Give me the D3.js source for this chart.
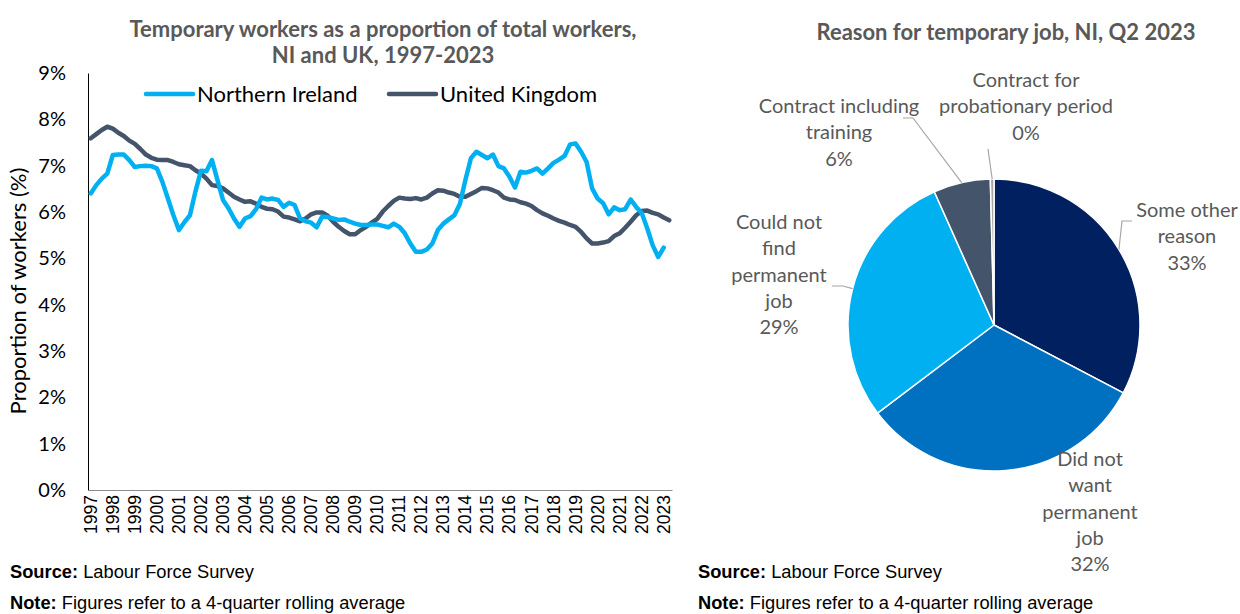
<!DOCTYPE html>
<html>
<head>
<meta charset="utf-8">
<script src="https://cdn.jsdelivr.net/npm/d3@7"></script>
<style>
  html, body { margin: 0; padding: 0; background: #fff; }
  svg { display: block; }
</style>
</head>
<body>
<svg id="chart" width="1240" height="614"></svg>
<script>
// ---- Line chart data: temporary workers as % of total workers (4-quarter rolling average)
const years = [1997, 1998, 1999, 2000, 2001, 2002, 2003, 2004, 2005, 2006, 2007, 2008, 2009,
  2010, 2011, 2012, 2013, 2014, 2015, 2016, 2017, 2018, 2019, 2020, 2021, 2022, 2023];
const quarterNames = ["Q1", "Q2", "Q3", "Q4"];

const ukValues = [
  7.59, 7.68, 7.77, 7.84, 7.80, 7.71, 7.64, 7.54, 7.47, 7.36, 7.24, 7.17, 7.13, 7.12, 7.12, 7.08,
  7.03, 7.01, 6.99, 6.90, 6.83, 6.72, 6.58, 6.56, 6.51, 6.42, 6.33, 6.27, 6.22, 6.23, 6.18, 6.11,
  6.07, 6.06, 6.01, 5.90, 5.88, 5.84, 5.80, 5.86, 5.95, 5.99, 5.99, 5.92, 5.79, 5.68, 5.59, 5.52,
  5.52, 5.61, 5.68, 5.77, 5.85, 6.01, 6.13, 6.24, 6.31, 6.29, 6.28, 6.30, 6.27, 6.31, 6.40, 6.47,
  6.46, 6.42, 6.39, 6.33, 6.33, 6.39, 6.45, 6.52, 6.51, 6.47, 6.42, 6.31, 6.27, 6.26, 6.21, 6.18,
  6.13, 6.04, 5.97, 5.92, 5.86, 5.81, 5.77, 5.72, 5.68, 5.57, 5.43, 5.32, 5.32, 5.34, 5.37, 5.48,
  5.54, 5.66, 5.79, 5.93, 6.02, 6.03, 5.98, 5.95, 5.88, 5.82
];

const niValues = [
  6.40, 6.58, 6.72, 6.83, 7.23, 7.24, 7.24, 7.12, 6.97, 6.99, 7.00, 6.99, 6.94, 6.65, 6.29, 5.93,
  5.61, 5.78, 5.93, 6.44, 6.89, 6.88, 7.12, 6.69, 6.26, 6.08, 5.86, 5.68, 5.86, 5.91, 6.06, 6.31,
  6.27, 6.29, 6.26, 6.11, 6.20, 6.15, 5.86, 5.80, 5.77, 5.67, 5.90, 5.89, 5.86, 5.83, 5.84, 5.79,
  5.75, 5.72, 5.72, 5.73, 5.73, 5.70, 5.67, 5.75, 5.68, 5.54, 5.32, 5.14, 5.14, 5.19, 5.32, 5.61,
  5.75, 5.84, 5.93, 6.17, 6.69, 7.16, 7.30, 7.23, 7.16, 7.24, 6.99, 6.94, 6.76, 6.53, 6.87, 6.85,
  6.89, 6.94, 6.83, 6.94, 7.06, 7.13, 7.21, 7.46, 7.48, 7.30, 7.08, 6.51, 6.29, 6.19, 5.95, 6.10,
  6.04, 6.06, 6.27, 6.11, 5.98, 5.65, 5.28, 5.03, 5.23
];

const seriesNames = ["Northern Ireland", "United Kingdom"];
const yTicks = [0, 1, 2, 3, 4, 5, 6, 7, 8, 9];

// ---- Pie chart data: reason for temporary job, NI, Q2 2023 (%)
const reasons = ["Some other reason", "Did not want permanent job", "Could not find permanent job",
  "Contract including training", "Contract for probationary period"];
const reasonShares = [32.7, 32.0, 28.6, 6.3, 0.4];

// ---- Styling
const colors = { ni: "#00B0F0", uk: "#44546A" };
const pieColors = ["#002060", "#0070C0", "#00B0F0", "#44546A", "#A6A6A6"];
const calibri = "Lato, 'Open Sans', sans-serif";
const arial = "'Liberation Sans', Arial, sans-serif";

const svg = d3.select("#chart");
svg.append("rect").attr("width", 1240).attr("height", 614).attr("fill", "#fff");

// periods: one per quarter, as many as the longest series
const periods = [];
years.forEach(y => quarterNames.forEach(q => periods.push(y + " " + q)));
periods.length = ukValues.length;

// ================= LINE CHART =================
const plot = { left: 88, right: 672, top: 73, bottom: 490 };

const x = d3.scaleBand().domain(periods).range([plot.left, plot.right]).padding(0);
const y = d3.scaleLinear().domain([0, 9]).range([plot.bottom, plot.top]);
const xc = p => x(p) + x.bandwidth() / 2;

// title
const t1 = svg.append("text").attr("text-anchor", "middle")
  .attr("font-family", calibri).attr("font-weight", 700).attr("font-size", 22).attr("fill", "#595959");
t1.append("tspan").attr("x", 383).attr("y", 37).text("Temporary workers as a proportion of total workers,");
t1.append("tspan").attr("x", 383).attr("y", 63).text("NI and UK, 1997-2023");

// y axis
const yAxis = svg.append("g").attr("transform", `translate(${plot.left},0)`)
  .call(d3.axisLeft(y).tickValues(yTicks).tickFormat(d => d + "%").tickSize(0).tickPadding(22));
yAxis.select(".domain").attr("stroke", "#000").attr("stroke-width", 1);
yAxis.selectAll("text").attr("font-family", calibri).attr("font-size", 20).attr("fill", "#000");

// x axis: one label per year at the first quarter
const yearTicks = periods.filter((p, i) => i % 4 === 0);
const xAxis = svg.append("g").attr("transform", `translate(0,${plot.bottom})`)
  .call(d3.axisBottom(x).tickValues(yearTicks).tickFormat(p => p.slice(0, 4)).tickSize(0).tickPadding(0));
xAxis.select(".domain").attr("stroke", "#8C8C8C").attr("stroke-width", 1);
xAxis.selectAll("text")
  .attr("font-family", arial).attr("font-size", 17.5).attr("fill", "#000")
  .attr("text-anchor", "end").attr("dy", null)
  .attr("transform", "translate(6,5) rotate(-90)");

// y axis title
svg.append("text").attr("transform", "translate(26,291) rotate(-90)")
  .attr("text-anchor", "middle").attr("font-family", calibri).attr("font-size", 22)
  .attr("fill", "#000").text("Proportion of workers (%)");

// lines
const line = d3.line()
  .defined(d => d.v != null)
  .x(d => xc(d.p)).y(d => y(d.v));

const seriesData = [
  { name: seriesNames[1], color: colors.uk, values: ukValues },
  { name: seriesNames[0], color: colors.ni, values: niValues }
];
seriesData.forEach(s => {
  svg.append("path")
    .datum(s.values.map((v, i) => ({ p: periods[i], v })))
    .attr("d", line).attr("fill", "none")
    .attr("stroke", s.color).attr("stroke-width", 4.5)
    .attr("stroke-linejoin", "round").attr("stroke-linecap", "round");
});

// legend
const legendItems = [
  { name: seriesNames[0], color: colors.ni, x: 146 },
  { name: seriesNames[1], color: colors.uk, x: 389 }
];
legendItems.forEach(it => {
  svg.append("line").attr("x1", it.x).attr("x2", it.x + 47).attr("y1", 94).attr("y2", 94)
    .attr("stroke", it.color).attr("stroke-width", 4.5).attr("stroke-linecap", "round");
  svg.append("text").attr("x", it.x + 51).attr("y", 102)
    .attr("font-family", calibri).attr("font-size", 22).attr("fill", "#000").text(it.name);
});

// ================= PIE CHART =================
const cx = 994, cy = 325, r = 146;

svg.append("text").attr("x", 1006).attr("y", 40).attr("text-anchor", "middle")
  .attr("font-family", calibri).attr("font-weight", 700).attr("font-size", 22)
  .attr("fill", "#595959").text("Reason for temporary job, NI, Q2 2023");

const pie = d3.pie().sort(null).value(d => d)(reasonShares);
const arc = d3.arc().innerRadius(0).outerRadius(r);

const pg = svg.append("g").attr("transform", `translate(${cx},${cy})`);
pg.selectAll("path").data(pie).join("path")
  .attr("d", arc)
  .attr("fill", (d, i) => pieColors[i])
  .attr("stroke", "#fff").attr("stroke-width", 1.5).attr("stroke-linejoin", "round");

// data labels: wrapped text lines, label centre, and optional leader-line elbow/start
const labelLayout = [
  { lines: ["Some other", "reason"], x: 1187, y: 217, lead: [[1132, 221], [1122, 221]] },
  { lines: ["Did not", "want", "permanent", "job"], x: 1090, y: 466, lead: null },
  { lines: ["Could not", "find", "permanent", "job"], x: 779, y: 229, lead: [[832, 286], [843, 286]] },
  { lines: ["Contract including", "training"], x: 839, y: 113, lead: [[903, 118], [913, 118]] },
  { lines: ["Contract for", "probationary period"], x: 1026, y: 87, lead: [[988, 149]] }
];
const pct = d3.format(".0f");
const lineGap = 26.3;

pie.forEach((d, i) => {
  const L = labelLayout[i];
  const mid = (d.startAngle + d.endAngle) / 2;
  const edge = [cx + r * Math.sin(mid), cy - r * Math.cos(mid)];
  if (L.lead) {
    svg.append("polyline")
      .attr("points", [...L.lead, edge].map(p => p.join(",")).join(" "))
      .attr("fill", "none").attr("stroke", "#A6A6A6").attr("stroke-width", 1.2);
  }
  const txt = svg.append("text").attr("text-anchor", "middle")
    .attr("font-family", calibri).attr("font-size", 20).attr("fill", "#595959");
  [...L.lines, pct(d.data) + "%"].forEach((s, k) => {
    txt.append("tspan").attr("x", L.x).attr("y", L.y + k * lineGap).text(s);
  });
});

// ================= FOOTNOTES =================
function footnote(xPos, yPos, head, body) {
  const t = svg.append("text").attr("x", xPos).attr("y", yPos)
    .attr("font-family", arial).attr("font-size", 18.3).attr("fill", "#000");
  t.append("tspan").attr("font-weight", 700).text(head);
  t.append("tspan").text(" " + body);
}
footnote(10, 578, "Source:", "Labour Force Survey");
footnote(10, 609, "Note:", "Figures refer to a 4-quarter rolling average");
footnote(698, 578, "Source:", "Labour Force Survey");
footnote(698, 609, "Note:", "Figures refer to a 4-quarter rolling average");
</script>
</body>
</html>
